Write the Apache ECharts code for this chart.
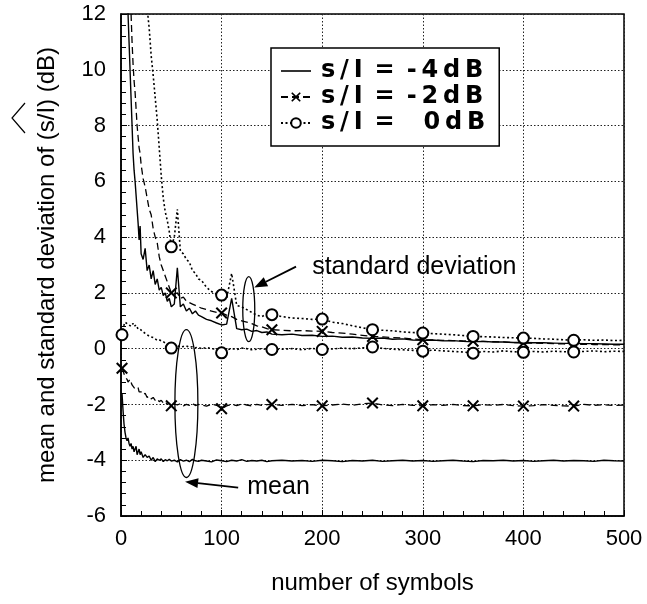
<!DOCTYPE html>
<html><head><meta charset="utf-8">
<script src="https://cdn.jsdelivr.net/npm/echarts@6/dist/echarts.min.js"></script>
<style>html,body{margin:0;padding:0;background:#fff}#c{width:647px;height:604px}</style>
</head><body><div id="c"></div>
<script>
// number of symbols (x positions of the sampled points)
const symbols = [1,2,3,4,5,6,7,8,9,10,11,12,13,14,15,16,17,18,19,20,
  22,24,26,28,30,32,34,36,38,40,42,44,46,48,50,
  53,56,59,62,65,68,71,74,77,
  80,85,90,95,100,105,110,115,120,125,130,135,140,145,150,
  160,170,180,190,200,210,220,230,240,250,260,270,280,290,300,310,320,330,340,350,
  360,370,380,390,400,410,420,430,440,450,460,470,480,490,500];

// mean estimates (dB)
const meanM4 = [-1.6,-2.2,-2.7,-3.0,-3.2,-3.3,-3.2,-3.4,-3.5,-3.4,-3.6,-3.5,-3.7,-3.6,-3.5,-3.8,-3.7,-3.6,-3.8,-3.7,
  -3.9,-3.8,-3.9,-3.85,-4.0,-3.9,-4.05,-3.95,-4.0,-3.95,-4.05,-3.98,-4.02,-3.97,-4.03,
  -4.0,-4.06,-3.98,-4.03,-4.0,-4.05,-3.97,-4.02,-4.04,
  -4.0,-4.03,-4.06,-3.99,-4.02,-4.05,-4.0,-4.03,-3.98,-4.04,-4.01,-4.03,-4.0,-4.05,-4.02,
  -4.0,-4.03,-4.01,-4.04,-4.0,-4.02,-4.05,-4.01,-4.03,-4.0,-4.04,-4.02,-4.0,-4.03,-4.01,-4.04,-4.02,-4.0,-4.03,-4.05,
  -4.01,-4.02,-4.0,-4.03,-4.01,-4.04,-4.02,-4.0,-4.03,-4.01,-4.02,-4.04,-4.0,-4.02,-4.03];
const meanM2 = [-0.7,-0.8,-0.9,-1.0,-1.05,-1.1,-1.2,-1.15,-1.1,-1.2,-1.3,-1.25,-1.4,-1.35,-1.45,-1.5,-1.4,-1.55,-1.6,-1.55,
  -1.65,-1.6,-1.75,-1.7,-1.8,-1.75,-1.85,-1.8,-1.9,-1.85,-1.95,-1.9,-2.0,-1.95,-2.05,
  -1.98,-2.02,-1.97,-2.05,-2.0,-2.03,-1.96,-2.04,-2.0,
  -2.02,-2.06,-1.99,-2.03,-2.15,-2.05,-2.0,-2.04,-1.98,-2.02,-2.05,-2.0,-2.03,-2.01,-2.0,
  -2.03,-2.0,-2.04,-2.01,-2.05,-2.02,-1.99,-2.03,-1.98,-1.95,-2.02,-2.04,-2.0,-2.03,-2.05,-2.01,-2.03,-2.0,-2.04,-2.05,
  -2.01,-2.03,-2.0,-2.04,-2.06,-2.04,-2.01,-2.03,-2.05,-2.06,-2.0,-2.03,-2.01,-2.04,-2.02];
const meanM0 = [0.5,0.7,0.85,0.95,1.0,0.9,0.95,0.85,0.9,0.8,0.85,0.9,0.8,0.75,0.85,0.8,0.7,0.75,0.7,0.65,
  0.6,0.55,0.5,0.45,0.42,0.4,0.35,0.3,0.32,0.28,0.25,0.2,0.15,0.1,0.02,
  0.1,0.12,0.05,0.08,0.1,0.05,0.07,0.03,0.05,
  0.0,0.04,0.0,-0.02,-0.15,-0.05,0.0,-0.03,0.02,0.0,-0.04,-0.02,0.0,-0.03,-0.03,
  -0.02,0.0,-0.04,0.01,-0.03,-0.01,0.02,0.0,0.03,0.06,0.01,-0.02,-0.04,-0.06,-0.09,-0.05,-0.08,-0.1,-0.12,-0.16,
  -0.1,-0.12,-0.08,-0.11,-0.13,-0.1,-0.12,-0.09,-0.11,-0.12,-0.1,-0.08,-0.11,-0.09,-0.1];

// standard deviation estimates (dB)
const stdM4 = [30,26,22,19,16,13.5,12,11,10,9,8,7,6.4,6.0,5.5,5.0,4.5,3.9,4.4,3.4,
  3.2,3.6,2.8,3.0,2.5,2.8,2.3,2.5,2.1,2.2,1.9,2.0,1.7,1.8,1.5,
  1.6,2.9,1.5,1.6,1.35,1.45,1.25,1.35,1.2,
  1.15,1.05,1.0,0.92,0.85,0.88,1.8,0.72,0.68,0.7,0.62,0.65,0.58,0.6,0.52,
  0.5,0.52,0.47,0.48,0.44,0.45,0.41,0.42,0.38,0.37,0.38,0.34,0.35,0.31,0.3,0.31,0.28,0.29,0.26,0.25,
  0.26,0.24,0.24,0.22,0.22,0.21,0.21,0.2,0.19,0.19,0.18,0.18,0.17,0.16,0.16];
const stdM2 = [40,35,30,26,22,19,17,15,13.5,12,11,10.2,9.6,9.2,8.6,8.0,7.6,7.2,7.0,6.6,
  6.1,5.8,5.4,5.0,4.8,4.3,4.0,3.8,3.3,3.0,2.8,2.6,2.4,2.2,2.0,
  1.95,2.0,1.8,1.85,1.7,1.65,1.6,1.55,1.5,
  1.45,1.4,1.35,1.3,1.28,1.2,1.15,1.05,1.0,0.95,0.9,0.82,0.78,0.72,0.68,
  0.66,0.64,0.65,0.63,0.62,0.58,0.56,0.52,0.48,0.44,0.42,0.4,0.38,0.35,0.32,0.31,0.3,0.29,0.28,0.27,
  0.26,0.25,0.24,0.22,0.2,0.2,0.19,0.18,0.17,0.15,0.16,0.15,0.15,0.14,0.14];
const stdM0 = [60,55,50,45,40,36,33,30,28,26,24,22,21,20,19,18,17,16,15,14.5,
  13.5,12.8,12.2,11.5,10.5,9.8,9.0,8.2,7.2,6.2,5.4,4.9,4.6,4.2,3.65,
  4.0,5.0,3.5,3.4,3.2,3.1,2.8,2.7,2.5,
  2.45,2.2,2.05,1.95,1.92,1.8,2.7,1.55,1.5,1.4,1.3,1.2,1.15,1.25,1.22,
  1.15,1.1,1.08,1.05,1.06,0.95,0.9,0.82,0.75,0.68,0.66,0.64,0.6,0.58,0.56,0.54,0.52,0.5,0.47,0.44,
  0.43,0.42,0.4,0.39,0.38,0.37,0.35,0.34,0.32,0.3,0.32,0.3,0.31,0.29,0.3];

// where markers are drawn
const meanMarks = [1,50,100,150,200,250,300,350,400,450];
const stdMarks = [50,100,150,200,250,300,350,400,450];

const names = ['s/I = -4dB','s/I = -2dB','s/I =  0dB'];
const legendLabels = [
  's\u2009/\u2009I\u2002=\u2002-\u20094\u2009d\u2009B',
  's\u2009/\u2009I\u2002=\u2002-\u20092\u2009d\u2009B',
  's\u2009/\u2009I\u2002=\u2002\u2002\u20090\u2009d\u2009B'
];

const xAxisMin = 0, xAxisMax = 500, xAxisStep = 100;
const yAxisMin = -6, yAxisMax = 12, yAxisStep = 2;

const X_PATH = 'path://M0,1.2L1.2,0L5,3.8L8.8,0L10,1.2L6.2,5L10,8.8L8.8,10L5,6.2L1.2,10L0,8.8L3.8,5Z';
const LINE_ICON = 'path://M0,0L30,0L30,1.6L0,1.6Z';

function build(ys, marks){
  return symbols.map((x,i)=>{
    const it = {value:[x, ys[i]]};
    if (marks.indexOf(x) < 0) it.symbol = 'none';
    return it;
  });
}
const styles = [
  {symbol:'none', symbolSize:0, line:{type:'solid', width:1.4}, bw:0},
  {symbol:X_PATH, symbolSize:12, line:{type:[7,4], width:1.3}, bw:0},
  {symbol:'emptyCircle', symbolSize:11, line:{type:[2,2.5], width:1.6}, bw:1.5}
];
const sets = [
  [stdM4, meanM4], [stdM2, meanM2], [stdM0, meanM0]
];
const series = [];
sets.forEach((pair, k)=>{
  const st = styles[k];
  [[pair[0], stdMarks],[pair[1], meanMarks]].forEach(([ys, marks])=>{
    series.push({
      type:'line', name: names[k], data: build(ys, marks),
      symbol: st.symbol, symbolSize: st.symbolSize, showSymbol:true, showAllSymbol:true,
      clip:true, animation:false, silent:true,
      lineStyle:{color:'#000', width: st.line.width, type: st.line.type},
      itemStyle:{color:'#000', borderColor:'#000', borderWidth: st.bw}
    });
  });
});

const chart = echarts.init(document.getElementById('c'), null, {renderer:'canvas'});
const FONT = '"Liberation Sans", Arial, Helvetica, sans-serif';
chart.setOption({
  backgroundColor:'#fff',
  animation:false,
  color:['#000'],
  grid:{left:121, right:23, top:14, bottom:88, show:true, borderColor:'#000', borderWidth:1.5, backgroundColor:'transparent'},
  legend:{
    data: [{name:names[0], icon:LINE_ICON}, {name:names[1]}, {name:names[2]}],
    left:271, top:48, orient:'vertical',
    itemWidth:30, itemHeight:12, itemGap:0,
    padding:[10,14,10,9],
    borderColor:'#000', borderWidth:1.5, backgroundColor:'#fff',
    selectedMode:false,
    formatter: n => legendLabels[names.indexOf(n)],
    textStyle:{fontFamily:'"DejaVu Sans", sans-serif', fontWeight:'bold', fontSize:24, lineHeight:26, color:'#000', padding:[0,0,0,5]}
  },
  xAxis:{
    type:'value', min:xAxisMin, max:xAxisMax, interval:xAxisStep,
    name:'number of symbols', nameLocation:'middle', nameGap:55,
    nameTextStyle:{fontFamily:FONT, fontSize:24, color:'#000'},
    axisLine:{show:true, onZero:false, lineStyle:{color:'#000', width:1.5}},
    axisTick:{show:true, inside:true, length:6, lineStyle:{color:'#000'}},
    minorTick:{show:true, splitNumber:5, length:5, lineStyle:{color:'#000'}},
    axisLabel:{fontFamily:FONT, fontSize:22, color:'#000', margin:12},
    splitLine:{show:true, lineStyle:{color:'#222', type:[1.5,2], width:1}}
  },
  yAxis:{
    type:'value', min:yAxisMin, max:yAxisMax, interval:yAxisStep,
    name:'mean and standard deviation of (s/I) (dB)', nameLocation:'middle', nameGap:62, nameRotate:90,
    nameTextStyle:{fontFamily:FONT, fontSize:24, color:'#000'},
    axisLine:{show:true, onZero:false, lineStyle:{color:'#000', width:1.5}},
    axisTick:{show:true, inside:true, length:6, lineStyle:{color:'#000'}},
    minorTick:{show:true, splitNumber:5, length:5, lineStyle:{color:'#000'}},
    axisLabel:{fontFamily:FONT, fontSize:22, color:'#000', margin:15},
    splitLine:{show:true, lineStyle:{color:'#222', type:[1.5,2], width:1}}
  },
  series: series
});

// annotations (placed via the chart's own coordinate conversion)
const P = (x,y)=>chart.convertToPixel({gridIndex:0},[x,y]);
function arrow(from, to){
  const dx = to[0]-from[0], dy = to[1]-from[1], L = Math.hypot(dx,dy);
  const ux = dx/L, uy = dy/L, hl = 13, hw = 5;
  const bx = to[0]-ux*hl, by = to[1]-uy*hl;
  return [
    {type:'line', shape:{x1:from[0], y1:from[1], x2:bx, y2:by}, style:{stroke:'#000', lineWidth:1.8}, silent:true},
    {type:'polygon', shape:{points:[[to[0],to[1]],[bx-uy*hw, by+ux*hw],[bx+uy*hw, by-ux*hw]]}, style:{fill:'#000'}, silent:true}
  ];
}
const mTop = P(65, 0.68), mBot = P(65, -4.62);
const sTop = P(127, 2.58), sBot = P(127, 0.25);
const g = [
  {type:'ellipse', shape:{cx:mTop[0], cy:(mTop[1]+mBot[1])/2, rx:11.5, ry:(mBot[1]-mTop[1])/2}, style:{fill:null, stroke:'#000', lineWidth:1.3}, silent:true, z:100},
  {type:'ellipse', shape:{cx:sTop[0], cy:(sTop[1]+sBot[1])/2, rx:6, ry:(sBot[1]-sTop[1])/2}, style:{fill:null, stroke:'#000', lineWidth:1.3}, silent:true, z:100},
  ...arrow(P(174, 2.94), P(132.5, 2.19)),
  ...arrow(P(116.5, -4.98), P(63.7, -4.77)),
  {type:'text', x:P(190,2.94)[0], y:P(190,2.94)[1], style:{text:'standard deviation', font:'25px "Liberation Sans", Arial, sans-serif', fill:'#000', verticalAlign:'middle', align:'left'}, silent:true},
  {type:'text', x:P(125.5,-4.95)[0], y:P(125.5,-4.95)[1], style:{text:'mean', font:'25px "Liberation Sans", Arial, sans-serif', fill:'#000', verticalAlign:'middle', align:'left'}, silent:true},
  {type:'polyline', shape:{points:[[25,103],[12,118],[25,133]]}, style:{stroke:'#000', lineWidth:1.2, fill:null}, silent:true}
];
chart.setOption({graphic: g});
</script>
</body></html>
